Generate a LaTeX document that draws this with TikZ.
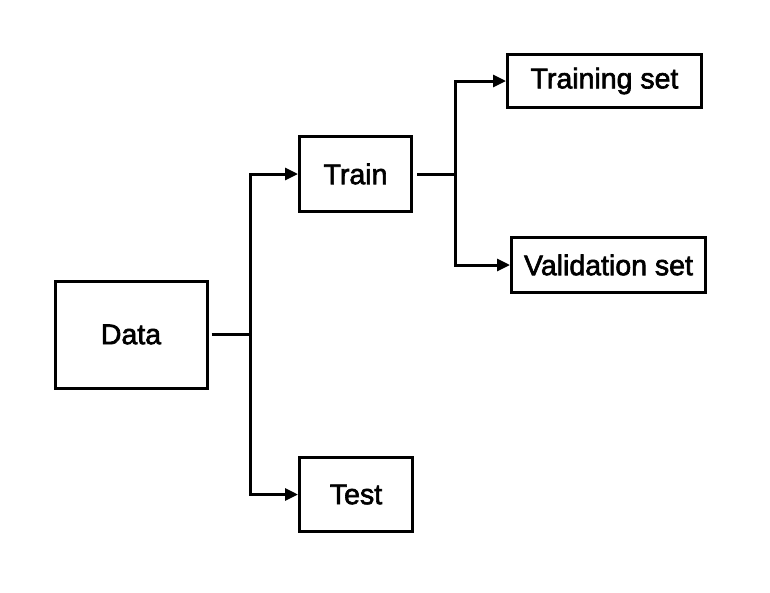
\documentclass[tikz,border=0pt]{standalone}
\usepackage{fontspec}
\setmainfont{Liberation Sans}
\newfontfamily\medfont[FakeBold=2.2]{Liberation Sans}
\usetikzlibrary{arrows.meta}
\begin{document}
\begin{tikzpicture}[x=1pt,y=-1pt,
  box/.style={draw,line width=3pt,inner sep=0pt,font=\medfont\fontsize{28.5}{32}\selectfont},
  conn/.style={line width=3pt},
  arr/.style={conn,-{Triangle[length=13pt,width=12pt]}}]
\useasboundingbox (0,0) rectangle (770,592);
\node[box,minimum width=152pt,minimum height=107pt] (data) at (131,334.5) {Data};
\node[box,minimum width=112pt,minimum height=75pt] (train) at (355.5,174) {Train};
\node[box,minimum width=113pt,minimum height=74pt] (test) at (356,494.5) {Test};
\node[box,minimum width=194pt,minimum height=53pt] (trs) at (604.5,81) {Training set};
\node[box,minimum width=194pt,minimum height=55pt] (vs) at (608.5,265) {Validation set};
\coordinate (j1) at (250,334.5);
\coordinate (j2) at (455,174);
\draw[conn,shorten <=3pt] (data.east) -- (j1);
\draw[arr] (j1) |- (train.west);
\draw[arr] (j1) |- (test.west);
\draw[conn,shorten <=4pt] (train.east) -- (j2);
\draw[arr] (j2) |- (trs.west);
\draw[arr] (j2) |- (vs.west);
\end{tikzpicture}
\end{document}
